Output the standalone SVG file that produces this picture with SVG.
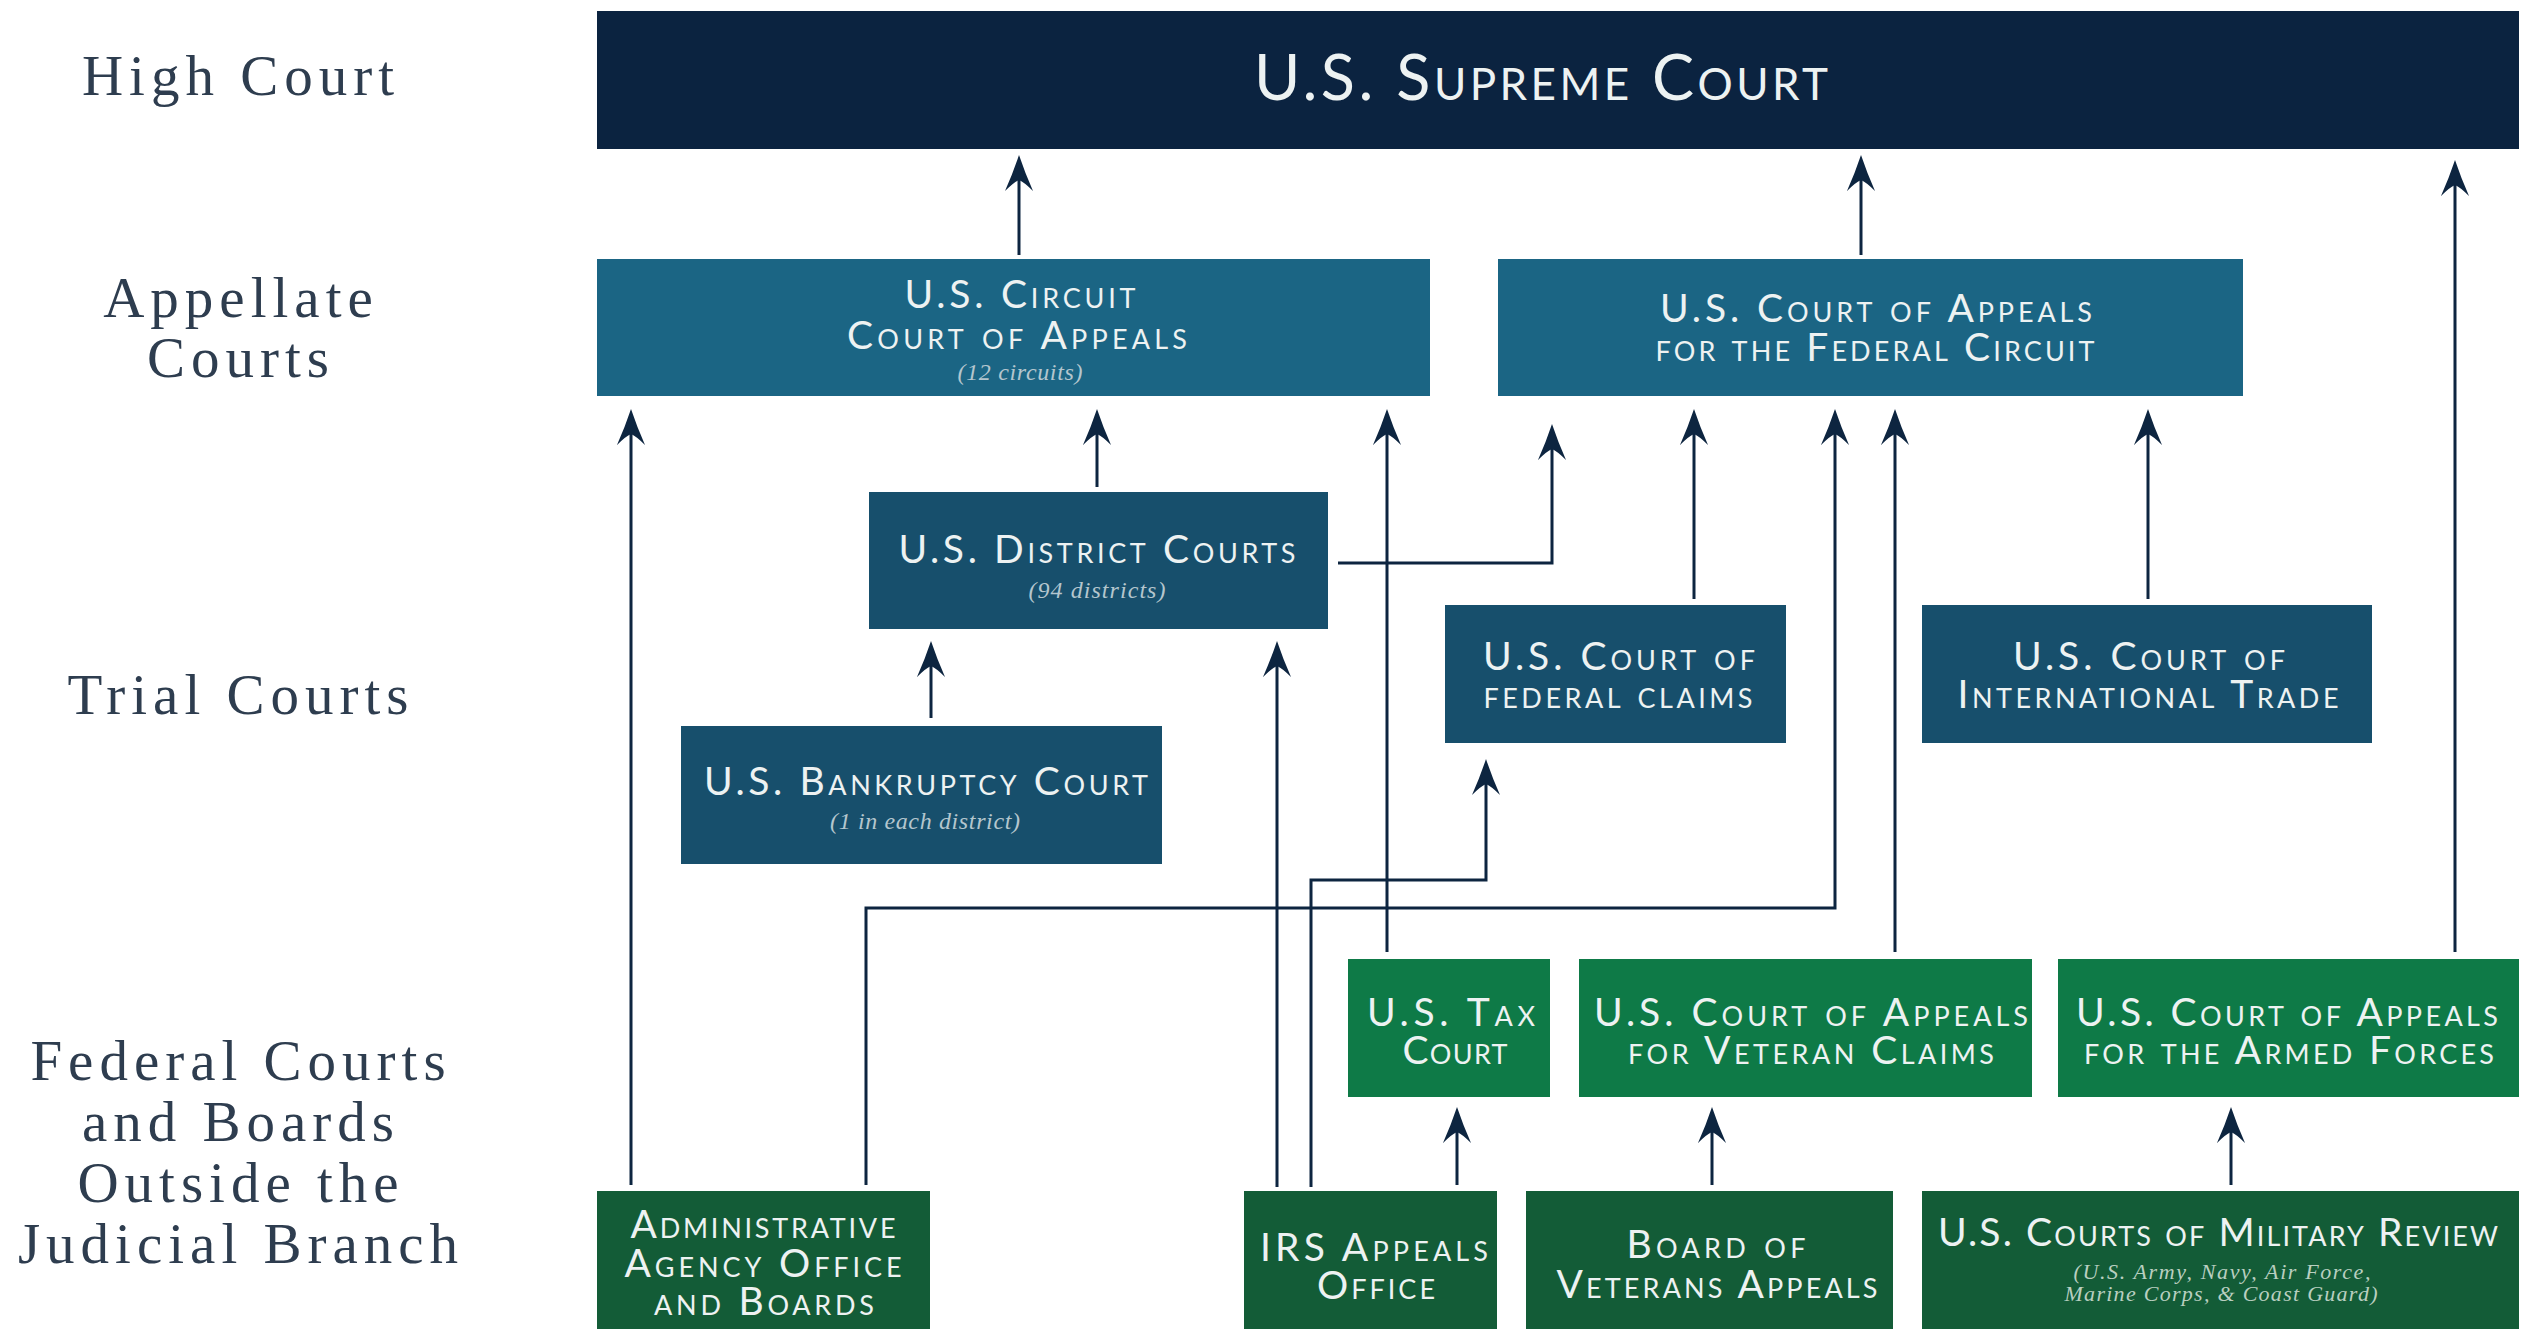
<svg xmlns="http://www.w3.org/2000/svg" width="2537" height="1329" viewBox="0 0 2537 1329">
<style>
.lbl{font-family:"Liberation Serif","Times New Roman",serif;font-size:57px;fill:#2e3d4f;letter-spacing:6px;text-anchor:middle}
.t{font-family:Lato,"Open Sans",sans-serif;font-variant:small-caps;fill:#edf2f2;text-anchor:middle;font-size:39px}
.big{font-size:63px}
.sub{font-family:"Liberation Serif","Times New Roman",serif;font-style:italic;font-size:24px;fill:#b4c6ce;text-anchor:middle}
.subg{fill:#b9cfc0;font-size:22px}
.conn{fill:none;stroke:#0d2540;stroke-width:3;marker-end:url(#ah)}
.navy{fill:#0b2340}.teal{fill:#1b6584}.trial{fill:#174f6c}.g1{fill:#0e7a47}.g2{fill:#135c37}
</style>
<defs>
<marker id="ah" markerUnits="userSpaceOnUse" markerWidth="40" markerHeight="32" refX="30" refY="0" orient="auto" overflow="visible">
<path d="M36,0 Q18,-6 0,-14 Q9,-5 11,0 Q9,5 0,14 Q18,6 36,0 Z" fill="#0d2540"/>
</marker>
</defs>
<rect width="2537" height="1329" fill="#ffffff"/>
<g id="labels">
<text class="lbl" x="241" y="95">High Court</text>
<text class="lbl" x="241" y="317">Appellate</text>
<text class="lbl" x="241" y="377">Courts</text>
<text class="lbl" x="241" y="714">Trial Courts</text>
<text class="lbl" x="241" y="1080">Federal Courts</text>
<text class="lbl" x="241" y="1141">and Boards</text>
<text class="lbl" x="241" y="1202">Outside the</text>
<text class="lbl" x="241" y="1263">Judicial Branch</text>
</g>
<g id="connectors">
<path class="conn" d="M1019,255 V161"/>
<path class="conn" d="M1861,255 V161"/>
<path class="conn" d="M2455,952 V166"/>
<path class="conn" d="M631,1185 V415"/>
<path class="conn" d="M1097,487 V415"/>
<path class="conn" d="M1387,952 V415"/>
<path class="conn" d="M1338,563 H1552 V430"/>
<path class="conn" d="M866,1185 V908 H1835 V415"/>
<path class="conn" d="M1694,599 V415"/>
<path class="conn" d="M1895,952 V415"/>
<path class="conn" d="M2148,599 V415"/>
<path class="conn" d="M1277,1187 V647"/>
<path class="conn" d="M931,718 V647"/>
<path class="conn" d="M1311,1187 V880 H1486 V765"/>
<path class="conn" d="M1457,1185 V1113"/>
<path class="conn" d="M1712,1185 V1113"/>
<path class="conn" d="M2231,1185 V1113"/>
</g>
<g id="supreme">
<rect class="navy" x="597" y="11" width="1922" height="138"/>
<text class="t big" x="1541" y="100" textLength="574">U.S. Supreme Court</text>
</g>
<g id="circuit">
<rect class="teal" x="597" y="259" width="833" height="137"/>
<text class="t" x="1020" y="308" textLength="231">U.S. Circuit</text>
<text class="t" x="1017" y="349" textLength="340">Court of Appeals</text>
<text class="sub" x="1020" y="380" textLength="125">(12 circuits)</text>
</g>
<g id="fedcircuit">
<rect class="teal" x="1498" y="259" width="745" height="137"/>
<text class="t" x="1876" y="322" textLength="432">U.S. Court of Appeals</text>
<text class="t" x="1875" y="361" textLength="439">for the Federal Circuit</text>
</g>
<g id="district">
<rect class="trial" x="869" y="492" width="459" height="137"/>
<text class="t" x="1097" y="563" textLength="397">U.S. District Courts</text>
<text class="sub" x="1097" y="598" textLength="137">(94 districts)</text>
</g>
<g id="fedclaims">
<rect class="trial" x="1445" y="605" width="341" height="138"/>
<text class="t" x="1619" y="670" textLength="272">U.S. Court of</text>
<text class="t" x="1618" y="708" textLength="269">federal claims</text>
</g>
<g id="inttrade">
<rect class="trial" x="1922" y="605" width="450" height="138"/>
<text class="t" x="2149" y="670" textLength="272">U.S. Court of</text>
<text class="t" x="2148" y="708" textLength="381">International Trade</text>
</g>
<g id="bankruptcy">
<rect class="trial" x="681" y="726" width="481" height="138"/>
<text class="t" x="926" y="795" textLength="444">U.S. Bankruptcy Court</text>
<text class="sub" x="925" y="829" textLength="190">(1 in each district)</text>
</g>
<g id="tax">
<rect class="g1" x="1348" y="959" width="202" height="138"/>
<text class="t" x="1451" y="1026" textLength="168">U.S. Tax</text>
<text class="t" x="1455" y="1064" textLength="105">Court</text>
</g>
<g id="vetclaims">
<rect class="g1" x="1579" y="959" width="453" height="138"/>
<text class="t" x="1811" y="1026" textLength="434">U.S. Court of Appeals</text>
<text class="t" x="1811" y="1064" textLength="366">for Veteran Claims</text>
</g>
<g id="armed">
<rect class="g1" x="2058" y="959" width="461" height="138"/>
<text class="t" x="2287" y="1026" textLength="422">U.S. Court of Appeals</text>
<text class="t" x="2289" y="1064" textLength="410">for the Armed Forces</text>
</g>
<g id="admin">
<rect class="g2" x="597" y="1191" width="333" height="138"/>
<text class="t" x="763" y="1238" textLength="265">Administrative</text>
<text class="t" x="763" y="1277" textLength="277">Agency Office</text>
<text class="t" x="764" y="1315" textLength="220">and Boards</text>
</g>
<g id="irs">
<rect class="g2" x="1244" y="1191" width="253" height="138"/>
<text class="t" x="1374" y="1261" textLength="228">IRS Appeals</text>
<text class="t" x="1376" y="1299" textLength="118">Office</text>
</g>
<g id="bva">
<rect class="g2" x="1526" y="1191" width="367" height="138"/>
<text class="t" x="1716" y="1258" textLength="179">Board of</text>
<text class="t" x="1717" y="1298" textLength="321">Veterans Appeals</text>
</g>
<g id="military">
<rect class="g2" x="1922" y="1191" width="597" height="138"/>
<text class="t" x="2218" y="1246" textLength="560">U.S. Courts of Military Review</text>
<text class="sub subg" x="2222" y="1279" textLength="297">(U.S. Army, Navy, Air Force,</text>
<text class="sub subg" x="2221" y="1301" textLength="313">Marine Corps, &amp; Coast Guard)</text>
</g>
</svg>
